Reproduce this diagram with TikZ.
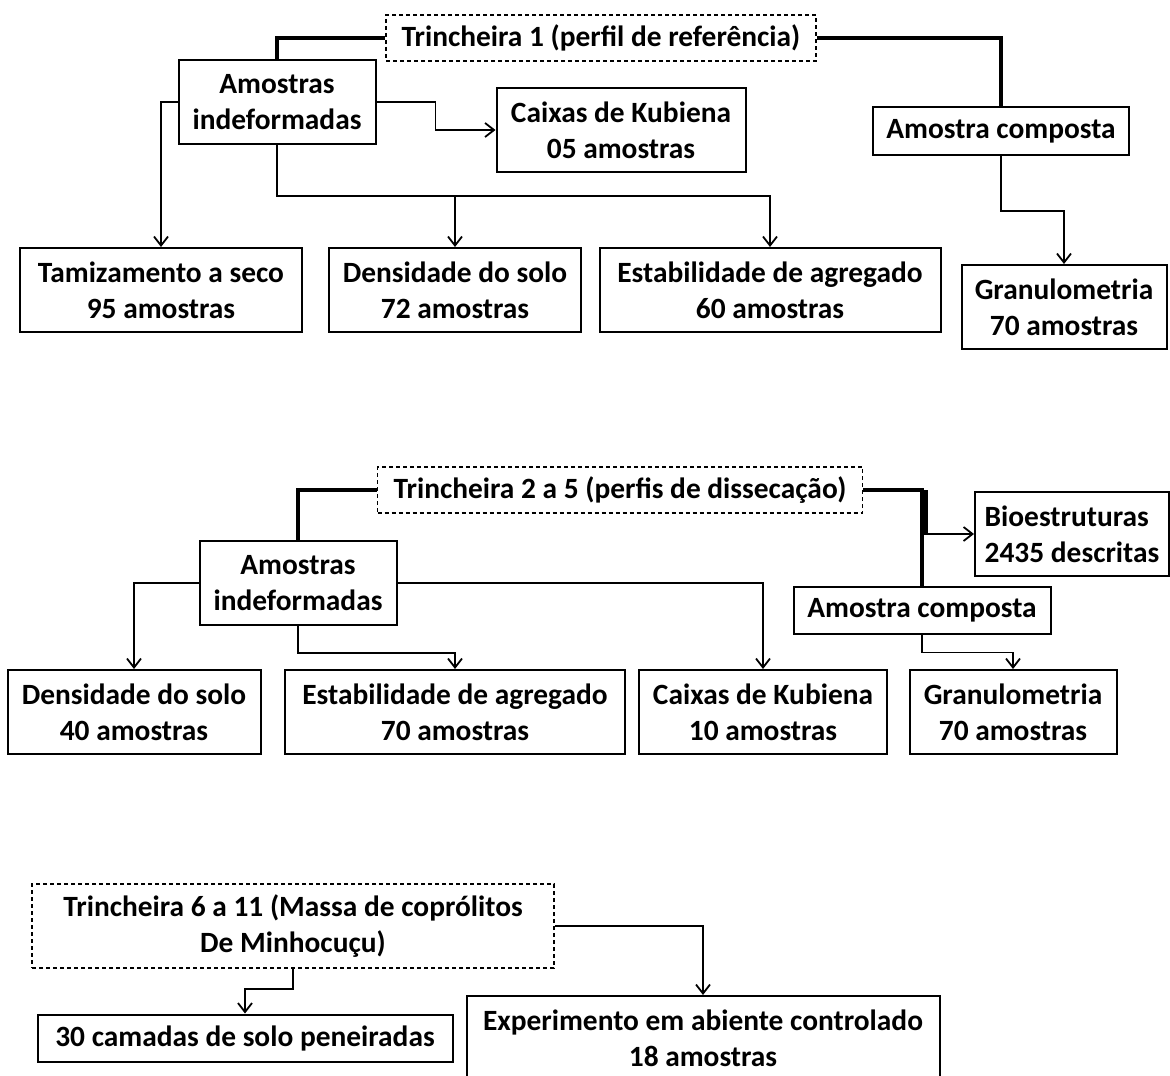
\documentclass[tikz,border=0pt]{standalone}
\usepackage{fontspec}
\setmainfont{Carlito}
\usetikzlibrary{arrows.meta}

\begin{document}
\begin{tikzpicture}[x=0.5pt,y=-0.5pt,>={Straight Barb[length=4.5pt,width=7pt]},
  every node/.style={font=\bfseries\fontsize{14.7}{18}\selectfont,align=center,inner sep=0pt},
  box/.style={draw,line width=1pt,minimum height=42pt},
  lowbox/.style={draw,line width=1pt,minimum height=23.5pt},
  trench/.style={draw,line width=0.8pt,dash pattern=on 2pt off 1.5pt},
  link/.style={line width=0.9pt},
  trunk/.style={line width=1.6pt}]
  \useasboundingbox (0,0) rectangle (1170,1075);

  % Trincheira 1
  \node[trench,minimum width=215pt,minimum height=23pt] (t1) at (601,38) {Trincheira 1 (perfil de referência)};
  \node[box,minimum width=98.5pt] (ai1) at (277,102) {Amostras\\indeformadas};
  \node[box,minimum width=124.5pt] (kub1) at (621,130) {Caixas de Kubiena\\05 amostras};
  \node[lowbox,minimum width=128pt,minimum height=24pt] (ac1) at (1001,131) {Amostra composta};
  \node[box,minimum width=141pt] (tam) at (161,290) {Tamizamento a seco\\95 amostras};
  \node[box,minimum width=126pt] (dens1) at (455,290) {Densidade do solo\\72 amostras};
  \node[box,minimum width=170.5pt] (est1) at (770,290) {Estabilidade de agregado\\60 amostras};
  \node[box,minimum width=102.5pt] (gran1) at (1064,307) {Granulometria\\70 amostras};

  \draw[trunk] (t1.west) -| (ai1.north);
  \draw[trunk] (t1.east) -| (ac1.north);
  \draw[link,->] (ai1.east) -- ++(59,0) |- (kub1.west);
  \draw[link,->] (ai1.west) -| (tam.north);
  \coordinate (bus1) at (277,196);
  \draw[link,->] (ai1.south) -- (bus1) -| (est1.north);
  \draw[link,->] (bus1 -| dens1.north) -- (dens1.north);
  \draw[link,->] (ac1.south) -- ++(0,55) -| (gran1.north);

  % Trincheira 2 a 5
  \node[trench,minimum width=242.5pt,minimum height=23pt] (t2) at (620,490) {Trincheira 2 a 5 (perfis de dissecação)};
  \node[box,minimum width=98.5pt] (ai2) at (298,583) {Amostras\\indeformadas};
  \node[box,minimum width=97pt,align=left] (bio) at (1072,534) {Bioestruturas\\2435 descritas};
  \node[lowbox,minimum width=128.5pt] (ac2) at (922,610) {Amostra composta};
  \node[box,minimum width=126.5pt] (dens2) at (134,712) {Densidade do solo\\40 amostras};
  \node[box,minimum width=170pt] (est2) at (455,712) {Estabilidade de agregado\\70 amostras};
  \node[box,minimum width=124pt] (kub2) at (763,712) {Caixas de Kubiena\\10 amostras};
  \node[box,minimum width=103.5pt] (gran2) at (1013,712) {Granulometria\\70 amostras};

  \draw[trunk] (t2.west) -| (ai2.north);
  \draw[trunk] (t2.east) -| (ac2.north);
  \draw[trunk] ([xshift=2pt]t2.east -| ac2.north) -- ([xshift=2pt]ac2.north |- bio.west);
  \draw[link,->] (ac2.north |- bio.west) -- (bio.west);
  \draw[link,->] (ai2.west) -| (dens2.north);
  \draw[link,->] (ai2.east) -| (kub2.north);
  \draw[link,->] (ai2.south) -- ++(0,27) -| (est2.north);
  \draw[link,->] (ac2.south) -- ++(0,18) -| (gran2.north);

  % Trincheira 6 a 11
  \node[trench,minimum width=261pt,minimum height=42pt] (t3) at (293,926) {Trincheira 6 a 11 (Massa de coprólitos\\De Minhocuçu)};
  \node[lowbox,minimum width=207.5pt] (cam) at (245,1038) {30 camadas de solo peneiradas};
  \node[box,minimum width=236.5pt] (exp) at (703,1038) {Experimento em abiente controlado\\18 amostras};

  \draw[link,->] (t3.south) -- ++(0,20) -| (cam.north);
  \draw[link,->] (t3.east) -| (exp.north);
\end{tikzpicture}
\end{document}
